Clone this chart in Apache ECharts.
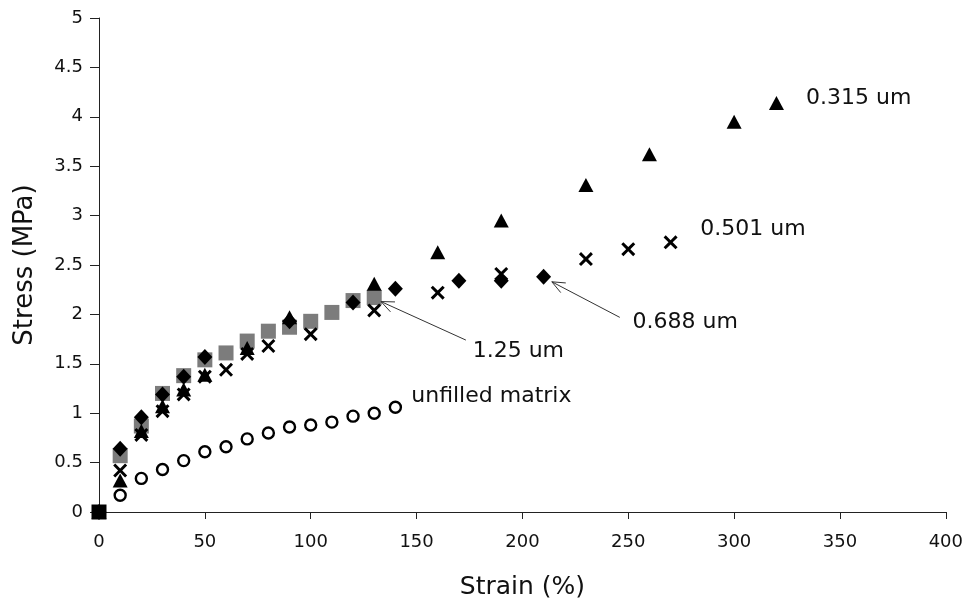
<!DOCTYPE html>
<html>
<head>
<meta charset="utf-8">
<title>Stress vs Strain</title>
<script src="https://cdn.jsdelivr.net/npm/echarts@6/dist/echarts.min.js"></script>
<style>
  html, body { margin: 0; padding: 0; background: #fff; }
  #chart { width: 966px; height: 605px; }
</style>
</head>
<body>
<div id="chart"></div>
<script>
// 0.315 um (triangles)
var triStrain = [0, 10, 20, 30, 40, 50, 70, 90, 130, 160, 190, 230, 260, 300, 320];
var triStress = [0, 0.32, 0.82, 1.07, 1.24, 1.39, 1.66, 1.97, 2.31, 2.63, 2.95, 3.31, 3.62, 3.95, 4.14];
// 0.501 um (crosses)
var crossStrain = [0, 10, 20, 30, 40, 50, 60, 70, 80, 100, 130, 160, 190, 230, 250, 270];
var crossStress = [0, 0.42, 0.78, 1.02, 1.19, 1.37, 1.44, 1.60, 1.68, 1.80, 2.04, 2.22, 2.41, 2.56, 2.66, 2.73];
// 0.688 um (diamonds)
var dmStrain = [0, 10, 20, 30, 40, 50, 90, 120, 140, 170, 190, 210];
var dmStress = [0, 0.64, 0.96, 1.19, 1.37, 1.57, 1.93, 2.12, 2.26, 2.34, 2.34, 2.38];
// 1.25 um (grey squares)
var sqStrain = [0, 10, 20, 30, 40, 50, 60, 70, 80, 90, 100, 110, 120, 130];
var sqStress = [0, 0.57, 0.87, 1.20, 1.38, 1.54, 1.61, 1.73, 1.83, 1.87, 1.93, 2.02, 2.14, 2.17];
// unfilled matrix (open circles)
var circStrain = [10, 20, 30, 40, 50, 60, 70, 80, 90, 100, 110, 120, 130, 140];
var circStress = [0.17, 0.34, 0.43, 0.52, 0.61, 0.66, 0.74, 0.80, 0.86, 0.88, 0.91, 0.97, 1.00, 1.06];

var FONT = 'DejaVu Sans';
var crossPath = 'path://M0,1.5 L1.5,0 L5,3.5 L8.5,0 L10,1.5 L6.5,5 L10,8.5 L8.5,10 L5,6.5 L1.5,10 L0,8.5 L3.5,5 Z';

//把两个数组合成点
function pairs(xs, ys) {
  var out = [];
  xs.forEach(function (x, i) { out.push([x, ys[i]]); });
  return out;
}

//原点处的方块是黑色的
var sqData = pairs(sqStrain, sqStress).map(function (p) {
  if (p[0] === 0 && p[1] === 0) return { value: p, itemStyle: { color: '#000' } };
  return p;
});

var chart = echarts.init(document.getElementById('chart'));

chart.setOption({
  animation: false,
  backgroundColor: '#fff',
  grid: { left: 99, right: 20, top: 18, bottom: 92 },
  xAxis: {
    type: 'value', min: 0, max: 400, interval: 50,
    name: 'Strain (%)', nameLocation: 'middle', nameGap: 63,
    nameTextStyle: { fontFamily: FONT, fontSize: 25, color: '#111' },
    axisLine: { show: true, lineStyle: { color: '#222', width: 1 } },
    axisTick: { show: true, length: 7, lineStyle: { color: '#222' } },
    axisLabel: { fontFamily: FONT, fontSize: 18, color: '#111', margin: 21 },
    splitLine: { show: false }
  },
  yAxis: {
    type: 'value', min: 0, max: 5, interval: 0.5,
    name: 'Stress (MPa)', nameLocation: 'middle', nameGap: 61,
    nameTextStyle: { fontFamily: FONT, fontSize: 26, color: '#111' },
    axisLine: { show: true, lineStyle: { color: '#222', width: 1 } },
    axisTick: { show: true, length: 9, lineStyle: { color: '#222' } },
    axisLabel: { fontFamily: FONT, fontSize: 18, color: '#111', margin: 16 },
    splitLine: { show: false }
  },
  series: [
    {
      name: '1.25 um', type: 'scatter', data: sqData,
      symbol: 'rect', symbolSize: 15, itemStyle: { color: '#7c7c7c', opacity: 1 }, z: 2
    },
    {
      name: 'unfilled matrix', type: 'scatter', data: pairs(circStrain, circStress),
      symbol: 'circle', symbolSize: 11,
      itemStyle: { color: '#fff', borderColor: '#000', borderWidth: 2.4, opacity: 1 }, z: 3
    },
    {
      name: '0.501 um', type: 'scatter', data: pairs(crossStrain, crossStress),
      symbol: crossPath, symbolSize: 14, itemStyle: { color: '#000', opacity: 1 }, z: 4
    },
    {
      name: '0.688 um', type: 'scatter', data: pairs(dmStrain, dmStress),
      symbol: 'diamond', symbolSize: [15, 16], itemStyle: { color: '#000', opacity: 1 }, z: 5
    },
    {
      name: '0.315 um', type: 'scatter', data: pairs(triStrain, triStress),
      symbol: 'triangle', symbolSize: [15, 14], itemStyle: { color: '#000', opacity: 1 }, z: 6
    }
  ]
});

//注释文字和箭头（数据坐标）
var notes = [
  { text: '0.315 um', at: [334, 4.19] },
  { text: '0.501 um', at: [284, 2.86] },
  { text: '0.688 um', at: [252, 1.92] },
  { text: '1.25 um', at: [176.5, 1.63] },
  { text: 'unfilled matrix', at: [147.5, 1.17] }
];
var arrows = [
  { tip: [133.2, 2.13], tail: [173.3, 1.74] },
  { tip: [213.9, 2.33], tail: [246.0, 1.97] }
];

function px(p) { return chart.convertToPixel({ gridIndex: 0 }, p); }

var elems = [];
notes.forEach(function (n) {
  var p = px(n.at);
  elems.push({
    type: 'text', x: p[0], y: p[1], z: 10,
    style: { text: n.text, fontFamily: FONT, fontSize: 22, fill: '#111', verticalAlign: 'middle', align: 'left' }
  });
});
arrows.forEach(function (a) {
  var t = px(a.tip), s = px(a.tail);
  var dx = s[0] - t[0], dy = s[1] - t[1];
  var len = Math.sqrt(dx * dx + dy * dy);
  dx /= len; dy /= len;
  var L = 14, ang = 0.4;
  function barb(sign) {
    var c = Math.cos(ang * sign), sn = Math.sin(ang * sign);
    return [t[0] + (dx * c - dy * sn) * L, t[1] + (dx * sn + dy * c) * L];
  }
  var style = { stroke: '#333', lineWidth: 1, fill: null };
  elems.push({ type: 'polyline', z: 10, shape: { points: [s, t] }, style: style });
  elems.push({ type: 'polyline', z: 10, shape: { points: [barb(1), t, barb(-1)] }, style: style });
});
chart.setOption({ graphic: elems });
</script>
</body>
</html>
